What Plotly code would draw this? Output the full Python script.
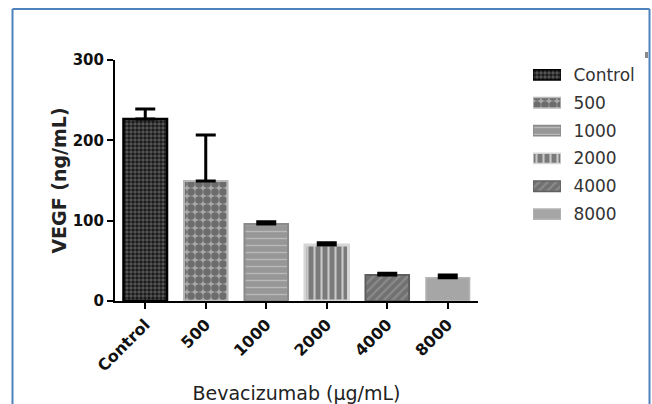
import plotly.graph_objects as go

categories = ["Control", "500", "1000", "2000", "4000", "8000"]
vegf = [226.6, 149.4, 96.0, 69.7, 32.4, 29.0]
vegf_err = [12.4, 57.3, 2.8, 2.9, 2.1, 3.4]
y_ticks = [0, 100, 200, 300]

W, H = 652, 404
# plot area in pixels
PX0, PX1, PY0, PY1 = 115, 478, 60, 301

styles = [
    dict(shape=".", bg="#5a5a5a", fg="#1c1c1c", size=4, sol=0.6, line="#000000", lw=2.5),
    dict(shape=".", bg="#a9a9a9", fg="#6c6c6c", size=8, sol=0.7, line="#b8b8b8", lw=2),
    dict(shape="-", bg="#979797", fg="#b9b9b9", size=7, sol=0.2, line="#8a8a8a", lw=2),
    dict(shape="|", bg="#7a7a7a", fg="#c8c8c8", size=7, sol=0.3, line="#d6d6d6", lw=3),
    dict(shape="/", bg="#717171", fg="#8c8c8c", size=6, sol=0.35, line="#5f5f5f", lw=2),
    dict(shape="", bg="#a6a6a6", fg="#a6a6a6", size=6, sol=0.3, line="#b4b4b4", lw=1.5),
]

fig = go.Figure()
for i, c in enumerate(categories):
    s = styles[i]
    pat = dict(shape=s["shape"], bgcolor=s["bg"], fgcolor=s["fg"], size=s["size"],
               solidity=s["sol"], fillmode="replace")
    fig.add_trace(go.Bar(
        x=[c], y=[vegf[i]], width=0.72,
        marker=dict(color=s["bg"], pattern=pat, line=dict(color=s["line"], width=s["lw"])),
        error_y=dict(type="data", symmetric=False, array=[vegf_err[i]], arrayminus=[0],
                     color="#000000", thickness=3, width=10),
        showlegend=False, xaxis="x", yaxis="y",
    ))
    # legend swatch drawn as a horizontal bar on its own small axes
    fig.add_trace(go.Bar(
        y=[c], x=[1], orientation="h", width=0.37,
        marker=dict(color=s["bg"], pattern=pat, line=dict(color=s["line"], width=1.5)),
        showlegend=False, xaxis="x3", yaxis="y3", hoverinfo="skip",
    ))

catfont = dict(family="DejaVu Sans", size=16, color="#111111", weight="bold")
yfont = dict(family="DejaVu Sans", size=15, color="#111111", weight="bold")

fig.update_layout(
    width=W, height=H,
    margin=dict(l=0, r=0, t=0, b=0, autoexpand=False),
    paper_bgcolor="white", plot_bgcolor="white",
    barmode="overlay",
    showlegend=False,
    xaxis=dict(
        domain=[PX0 / W, PX1 / W], anchor="y",
        type="category", categoryorder="array", categoryarray=categories,
        range=[-0.5, 5.5],
        showline=True, linecolor="#000000", linewidth=2,
        ticks="outside", ticklen=6, tickwidth=2, tickcolor="#000000",
        tickangle=-45, tickfont=catfont,
        showgrid=False, zeroline=False, automargin=False,
        title=dict(text="Bevacizumab (μg/mL)", standoff=16,
                   font=dict(family="DejaVu Sans", size=19, color="#222222")),
    ),
    yaxis=dict(
        domain=[1 - PY1 / H, 1 - PY0 / H], anchor="x",
        range=[0, 300], tickvals=y_ticks,
        showline=True, linecolor="#000000", linewidth=2,
        ticks="outside", ticklen=6, tickwidth=2, tickcolor="#000000",
        tickfont=yfont,
        showgrid=False, zeroline=False, automargin=False,
        title=dict(text="VEGF (ng/mL)", standoff=1,
                   font=dict(family="DejaVu Sans", size=19, color="#222222", weight="bold")),
    ),
    xaxis3=dict(
        domain=[533 / W, 561 / W], anchor="y3", range=[0, 1],
        visible=False, fixedrange=True,
    ),
    yaxis3=dict(
        domain=[1 - 228 / H, 1 - 61 / H], anchor="x3",
        type="category", categoryorder="array", categoryarray=categories,
        range=[5.5, -0.5], side="right",
        showline=False, showgrid=False, zeroline=False,
        ticks="outside", ticklen=8, tickcolor="rgba(0,0,0,0)",
        tickfont=dict(family="DejaVu Sans", size=17, color="#333333"),
        automargin=False, fixedrange=True,
    ),
    shapes=[
        dict(type="line", xref="paper", yref="paper", x0=12.5 / W, x1=12.5 / W, y0=0, y1=1 - 9 / H,
             line=dict(color="#4f81bd", width=2)),
        dict(type="line", xref="paper", yref="paper", x0=12.5 / W, x1=649.5 / W, y0=1 - 9 / H, y1=1 - 9 / H,
             line=dict(color="#4f81bd", width=2)),
        dict(type="line", xref="paper", yref="paper", x0=649.5 / W, x1=649.5 / W, y0=0, y1=1 - 9 / H,
             line=dict(color="#4f81bd", width=2)),
        dict(type="rect", xref="paper", yref="paper", x0=645 / W, x1=648 / W, y0=1 - 58 / H, y1=1 - 52 / H,
             fillcolor="#8a8a8a", line=dict(width=0)),
    ],
)

fig.write_html("out.html", config={"displayModeBar": False},
               post_script="document.body.style.margin='0';")
